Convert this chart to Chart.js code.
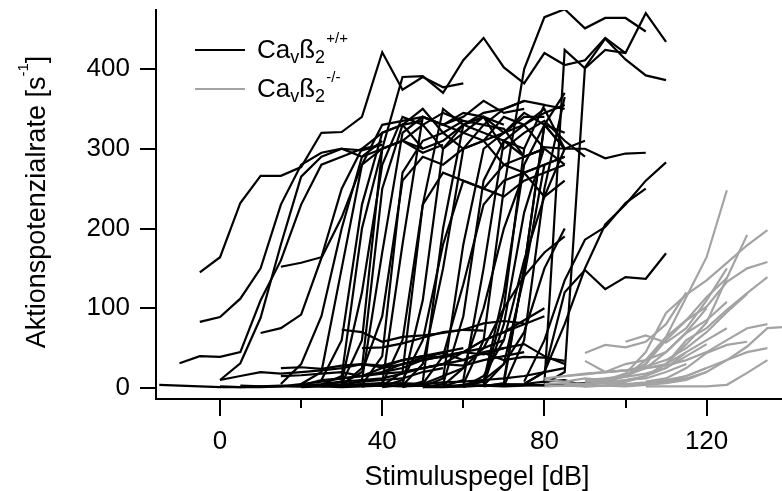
<!DOCTYPE html>
<html>
<head>
<meta charset="utf-8">
<script src="https://cdn.jsdelivr.net/npm/chart.js@4/dist/chart.umd.min.js"></script>
<style>
html,body{margin:0;padding:0;background:#fff;}
#wrap{width:782px;height:491px;}
</style>
</head>
<body>
<div id="wrap"><canvas id="c" width="782" height="491"></canvas></div>
<script>
// Stimulus levels (dB), 5 dB grid
const levels = [-15,-10,-5,0,5,10,15,20,25,30,35,40,45,50,55,60,65,70,75,80,85,90,95,100,105,110,115,120,125,130,135,140];

// Ca_v beta2 +/+ : first level of each curve and its rates (s^-1) at consecutive levels
const wtStart = [-15,-5,-5,-10,0,10,15,0,5,0,15,15,15,20,20,25,25,30,30,30,35,35,35,40,40,40,45,45,45,50,50,55,55,60,60,65,65,70,60,50,30,35,40,25,45,20,60,80,80,30,65,75,75,75,70,65,25,50,55,20];
const wtRates = [
  [4,3,2,1,1,1,2,2,3,4,5,6,5,5],
  [145,164,232,266,266,277,320,321,340,421,374,390,377,382],
  [83,89,112,150,230,280,295,300,290,310],
  [31,40,39,45,110,160,230,280,290,300,305],
  [10,31,88,180,265,290,300,298,305],
  [69,75,92,163,214,280,300,310,300],
  [152,157,164,250,300,320,330,335],
  [2,1,2,3,2,3,5,8,10,12,20,25],
  [3,2,2,5,8,12,15,18,20,25,30,28,35,40,45],
  [10,15,20,18,20,22,25,30,28,35,40,45,50],
  [25,26,24,28,30,26,35,40,38,45,50,60],
  [15,16,18,20,15,25,30,35,40,45,42,50],
  [5,30,90,200,290,300,310,295,305],
  [5,20,150,280,330,335,340,330,345,340],
  [3,10,60,230,320,330,350,320,335],
  [4,15,200,300,310,330,300,320,340,330],
  [3,8,120,280,340,330,345,335,330,350,360],
  [2,10,170,320,340,330,340,360,345,350],
  [3,25,250,330,300,310,330,320,310,300],
  [5,20,90,260,290,280,300,310,280,290,300],
  [2,6,180,340,330,320,310,340,330,345,355],
  [4,40,270,310,320,300,330,325,290,300],
  [2,5,60,230,270,260,250,280,270,240,260],
  [1,4,110,300,330,340,300,320,335,310,290],
  [3,20,230,350,330,345,350,360,355],
  [2,10,60,180,260,250,240,260,270,280],
  [1,8,200,330,340,320,345,330,300,310],
  [3,30,150,300,310,320,330,300],
  [2,5,40,130,230,260,270,280,290],
  [2,12,180,300,320,340,340],
  [1,5,90,260,310,290,300,280],
  [2,10,150,310,330,350,300],
  [3,25,100,200,270,280,290],
  [2,8,120,280,330,370],
  [1,15,60,160,240,300],
  [2,6,150,330,320],
  [3,30,140,280],
  [2,60,250,365],
  [4,10,30,70,150,200],
  [5,15,25,50,100,140,170,190],
  [73,70,58,64,66,69,73,81,84,81],
  [50,51,56,63,70,73,72],
  [20,30,38,44,35,44,35,39,38,34],
  [10,12,15,20,25,35,40,45,60,70,80,90],
  [20,25,30,45,60,70,85,100],
  [3,5,8,10,12,18,25,30,35,45,50,55,40,30],
  [5,60,250,400,465,475,451,464,464,447],
  [6,424,401,424,420,470,434],
  [5,20,402,438,412,392,386],
  [5,60,300,390,391,370,411,439,402,382,420,405,411,439,420],
  [4,80,220,302,300,300,288,294,295],
  [5,20,80,150,205,230,260,283],
  [8,60,135,186,202,232,250],
  [5,20,120,148,124,139,137,169],
  [10,150,330,300],
  [5,100,300,355,350],
  [2,3,4,5,6,5,7,8,10,12,15,20,25],
  [1,1,2,3,4,5,8,10,2],
  [2,2,3,2,3,4,5,6,8],
  [1,2,1,2,3,2,3,2,4,3,5,4,3,5]
];

// Ca_v beta2 -/- curves
const koStart = [85,90,95,95,100,105,95,90,90,100,105,100,90,90,80,80,85,90,95,80,80,85];
const koRates = [
  [3,5,8,15,35,64,114,164,248],
  [8,10,18,45,94,117,135,157,179,198],
  [8,15,30,60,85,102,133,150,158],
  [5,8,15,30,60,75,98,119,139],
  [3,5,8,15,25,35,52,75,77],
  [2,2,2,2,4,19,35],
  [5,8,15,30,55,82,138,192],
  [8,10,15,30,64,85,114,138],
  [10,12,15,25,45,69,85,108],
  [10,15,25,45,60,75],
  [8,12,25,44,54,58],
  [58,66,57,75,110,150],
  [44,54,51,58,80,120],
  [34,20,30,35,45,70,100],
  [10,8,12,10,14,18,25,40,55],
  [5,6,5,8,10,12,20,30],
  [15,18,20,22,25,30,45],
  [2,3,2,4,6,10,20,35,45,50],
  [20,22,25,28,35,45,60,75,80],
  [12,15,17,20,22,27,35,50,70,95,118],
  [2,3,2,3,4,5,8,12,20],
  [5,4,6,5,7,10,15,25]
];

const xTicks = [0,40,80,120];
const xMinorTicks = [20,60,100];
const yTicks = [0,100,200,300,400];

const BLACK = '#000000';
const GRAY = '#a3a3a3';
const FONT = '"Liberation Sans", Arial, Helvetica, sans-serif';

function toPoints(start, vals){
  const i0 = levels.indexOf(start);
  return vals.map((v,i)=>({x: levels[i0+i], y: v}));
}

const datasets = [];
wtRates.forEach((vals,k)=>datasets.push({data: toPoints(wtStart[k], vals), borderColor: BLACK, borderWidth: 2.2, pointRadius: 0, order: 1}));
koRates.forEach((vals,k)=>datasets.push({data: toPoints(koStart[k], vals), borderColor: GRAY, borderWidth: 2.2, pointRadius: 0, order: 0}));

function drawRuns(ctx, x, y, runs){
  runs.forEach(r=>{
    ctx.font = r.size + 'px ' + FONT;
    ctx.fillText(r.t, x, y + (r.dy||0));
    x += ctx.measureText(r.t).width;
  });
  return x;
}
function runsWidth(ctx, runs){
  let w = 0;
  runs.forEach(r=>{ ctx.font = r.size + 'px ' + FONT; w += ctx.measureText(r.t).width; });
  return w;
}

const deco = {
  id: 'deco',
  afterDraw(chart){
    const ctx = chart.ctx, xs = chart.scales.x, ca = chart.chartArea;
    ctx.save();
    ctx.strokeStyle = '#000'; ctx.lineWidth = 2;
    xMinorTicks.forEach(v=>{
      const px = Math.round(xs.getPixelForValue(v));
      ctx.beginPath(); ctx.moveTo(px, ca.bottom); ctx.lineTo(px, ca.bottom + 9); ctx.stroke();
    });
    ctx.fillStyle = '#000';
    ctx.textBaseline = 'alphabetic';
    // x title
    const xr = [{t:'Stimuluspegel [dB]', size:27}];
    drawRuns(ctx, 477 - runsWidth(ctx, xr)/2, 485, xr);
    // y title
    const yr = [{t:'Aktionspotenzialrate [s', size:27},{t:'-1', size:15, dy:-17},{t:']', size:27}];
    const w = runsWidth(ctx, yr);
    ctx.save();
    ctx.translate(45, 202 + w/2);
    ctx.rotate(-Math.PI/2);
    drawRuns(ctx, 0, 0, yr);
    ctx.restore();
    // legend
    const items = [{c:BLACK, y:50, base:58, sup:'+/+'},{c:GRAY, y:89, base:97, sup:'-/-'}];
    items.forEach(it=>{
      ctx.strokeStyle = it.c; ctx.lineWidth = 2;
      ctx.beginPath(); ctx.moveTo(195, it.y); ctx.lineTo(245, it.y); ctx.stroke();
      ctx.fillStyle = '#000';
      drawRuns(ctx, 257, it.base, [
        {t:'Ca', size:26},{t:'v', size:18, dy:5},{t:'ß', size:26},{t:'2', size:18, dy:5},{t:' ', size:4},{t:it.sup, size:15, dy:-15}
      ]);
    });
    ctx.restore();
  }
};

new Chart(document.getElementById('c'), {
  type: 'line',
  data: { datasets },
  options: {
    responsive: false,
    animation: false,
    devicePixelRatio: 1,
    layout: { padding: { top: 10, right: 0, left: 0, bottom: 0 } },
    plugins: { legend: { display: false }, tooltip: { enabled: false } },
    elements: { line: { tension: 0, fill: false, borderCapStyle: 'butt', borderJoinStyle: 'miter' } },
    scales: {
      x: {
        type: 'linear', min: -15.8, max: 138.6,
        afterFit(s){ s.height = 92; s.paddingLeft = 0; s.paddingRight = 0; },
        afterBuildTicks(s){ s.ticks = xTicks.map(v=>({value:v})); },
        grid: { display: true, drawOnChartArea: false, drawTicks: true, tickLength: 17, color: '#000', lineWidth: 2 },
        border: { display: true, color: '#000', width: 2 },
        ticks: { color: '#000', padding: 10, maxRotation: 0, autoSkip: false, font: { family: FONT, size: 26 } }
      },
      y: {
        type: 'linear', min: -13.8, max: 474,
        afterFit(s){ s.width = 156; s.paddingTop = 0; s.paddingBottom = 0; },
        afterBuildTicks(s){ s.ticks = yTicks.map(v=>({value:v})); },
        grid: { display: true, drawOnChartArea: false, drawTicks: true, tickLength: 16, color: '#000', lineWidth: 2 },
        border: { display: true, color: '#000', width: 2 },
        ticks: { color: '#000', padding: 10, autoSkip: false, font: { family: FONT, size: 26 } }
      }
    }
  },
  plugins: [deco]
});
</script>
</body>
</html>
